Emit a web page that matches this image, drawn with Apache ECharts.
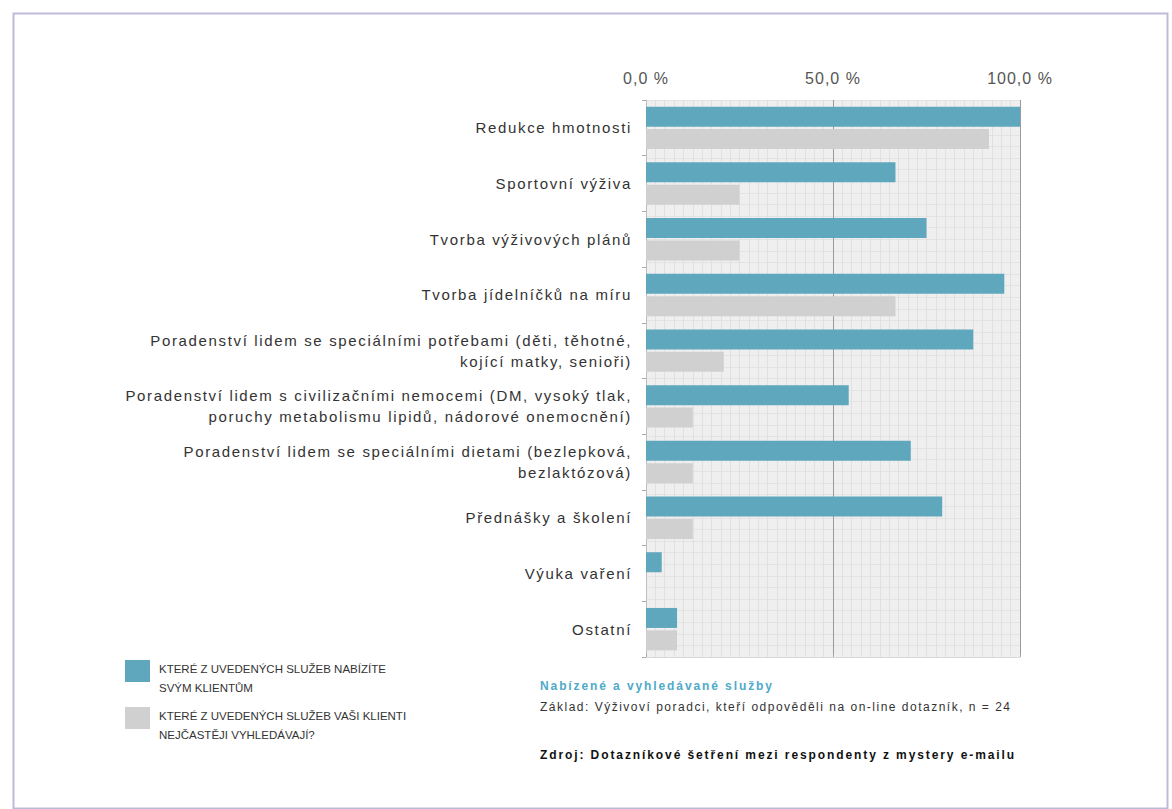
<!DOCTYPE html>
<html>
<head>
<meta charset="utf-8">
<script src="https://cdn.jsdelivr.net/npm/echarts@6/dist/echarts.min.js"></script>
<style>
html,body{margin:0;padding:0;background:#fff;}
#chart{width:1172px;height:809px;}
</style>
</head>
<body>
<div id="chart"></div>
<script>
const categories = [
  "Redukce hmotnosti",
  "Sportovní výživa",
  "Tvorba výživových plánů",
  "Tvorba jídelníčků na míru",
  "Poradenství lidem se speciálními potřebami (děti, těhotné,\nkojící matky, senioři)",
  "Poradenství lidem s civilizačními nemocemi (DM, vysoký tlak,\nporuchy metabolismu lipidů, nádorové onemocnění)",
  "Poradenství lidem se speciálními dietami (bezlepková,\nbezlaktózová)",
  "Přednášky a školení",
  "Výuka vaření",
  "Ostatní"
];
const offered = [100.0, 66.7, 75.0, 95.8, 87.5, 54.2, 70.8, 79.2, 4.2, 8.3];
const sought = [91.7, 25.0, 25.0, 66.7, 20.8, 12.5, 12.5, 12.5, 0, 8.3];
const seriesNames = [
  "KTERÉ Z UVEDENÝCH SLUŽEB NABÍZÍTE\nSVÝM KLIENTŮM",
  "KTERÉ Z UVEDENÝCH SLUŽEB VAŠI KLIENTI\nNEJČASTĚJI VYHLEDÁVAJÍ?"
];
const xTicks = [0, 50, 100];
const noteTitle = "Nabízené a vyhledávané služby";
const noteBase = "Základ: Výživoví poradci, kteří odpověděli na on-line dotazník, n = 24";
const noteSource = "Zdroj: Dotazníkové šetření mezi respondenty z mystery e-mailu";

const FONT = "'Liberation Sans', Arial, sans-serif";
// legend swatch: square in the upper part of a taller icon box
const SWATCH = 'path://M0,0H25V22H0Z M0,37L0.01,37';

const chart = echarts.init(document.getElementById('chart'), null, { renderer: 'svg' });
chart.setOption({
  backgroundColor: '#fff',
  animation: false,
  textStyle: { fontFamily: FONT },
  grid: {
    left: 646, right: 152, top: 100, bottom: 152,
    show: true, backgroundColor: '#efefef', borderWidth: 0
  },
  legend: {
    orient: 'vertical', left: 125, top: 659.5, padding: 0,
    itemWidth: 25, itemHeight: 37, itemGap: 9,
    icon: SWATCH,
    textStyle: { fontSize: 11.5, color: '#333', lineHeight: 19, padding: [0, 0, 0, 4], fontFamily: FONT },
    data: seriesNames
  },
  xAxis: {
    type: 'value', position: 'top', min: xTicks[0], max: xTicks[xTicks.length - 1], interval: 50,
    axisLabel: {
      color: '#555', fontSize: 16, margin: 14,
      formatter: v => v.toFixed(1).replace('.', ',') + ' %'
    },
    axisLine: { show: true, lineStyle: { color: '#d8d8d8' } },
    axisTick: { show: true, length: 3, lineStyle: { color: '#aaa' } },
    splitLine: { show: true, lineStyle: { color: '#9a9a9a', width: 1 } },
    minorTick: { show: false, splitNumber: 20 },
    minorSplitLine: { show: true, lineStyle: { color: '#e0e0e0', width: 1 } }
  },
  yAxis: [
    {
      type: 'category', inverse: true, data: categories,
      axisLine: { show: true, lineStyle: { color: '#bdbdbd' } },
      axisTick: { show: true, length: 4, lineStyle: { color: '#aaa' } },
      axisLabel: { color: '#333', fontSize: 15, lineHeight: 21, margin: 14, align: 'right' },
      splitLine: { show: false }
    },
    {
      type: 'value', min: 0, max: 48, interval: 1, show: true,
      axisLine: { show: false }, axisTick: { show: false }, axisLabel: { show: false },
      splitLine: { show: true, lineStyle: { color: '#e3e3e3', width: 1 } }
    }
  ],
  series: [
    {
      name: seriesNames[0], type: 'bar', yAxisIndex: 0, data: offered,
      barWidth: 20, barGap: '12%',
      itemStyle: { color: '#5fa7bd' }
    },
    {
      name: seriesNames[1], type: 'bar', yAxisIndex: 0, data: sought,
      barWidth: 20, barGap: '12%',
      itemStyle: { color: '#d0d0d0' }
    }
  ],
  graphic: [
    {
      type: 'rect', left: 11, top: 11, silent: true,
      shape: { width: 1154, height: 795 },
      style: { fill: 'none', stroke: '#bdbadb', lineWidth: 2 }
    },
    {
      type: 'text', x: 540, y: 686,
      style: { text: noteTitle, fill: '#4eaac8', font: 'bold 12px ' + FONT, verticalAlign: 'middle' }
    },
    {
      type: 'text', x: 540, y: 707,
      style: { text: noteBase, fill: '#333', font: '12px ' + FONT, verticalAlign: 'middle' }
    },
    {
      type: 'text', x: 540, y: 755,
      style: { text: noteSource, fill: '#111', font: 'bold 12px ' + FONT, verticalAlign: 'middle' }
    }
  ]
});

function applySpacing() {
  document.querySelectorAll('#chart svg text').forEach(el => {
    const t = (el.textContent || '').trim();
    let sp = 0;
    if (t.endsWith('%')) sp = 1.0;
    else if (t.startsWith('Zdroj') || t.startsWith('Nabízené')) sp = 1.9;
    else if (t.startsWith('Základ')) sp = 1.5;
    else if (/[A-ZÁ-Ž]/.test(t) && t === t.toUpperCase()) sp = 0;
    else sp = 1.65;
    el.style.letterSpacing = sp + 'px';
  });
}
chart.on('finished', applySpacing);
applySpacing();
setTimeout(applySpacing, 50);
</script>
</body>
</html>
